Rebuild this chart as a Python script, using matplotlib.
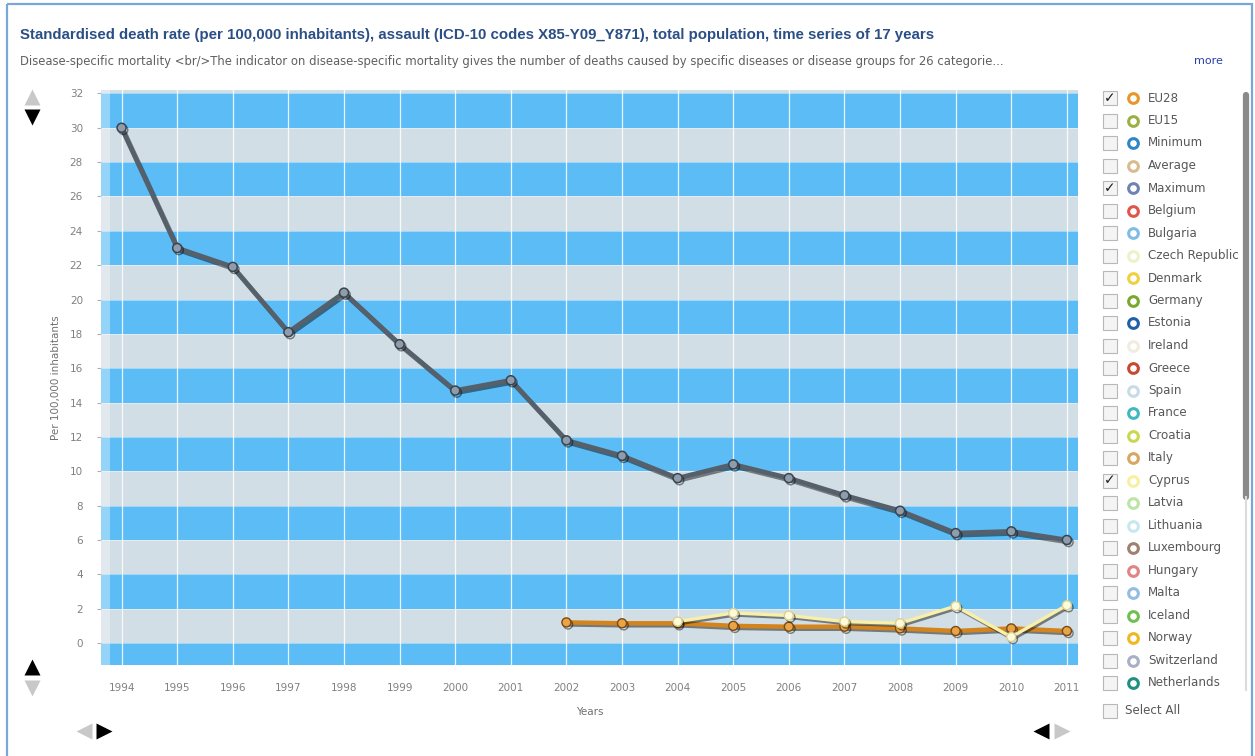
import matplotlib
matplotlib.use('Agg')
import matplotlib.pyplot as plt
import matplotlib.patheffects as pe
from matplotlib.patches import Rectangle

# ---- data ----
years = list(range(1994, 2012))
maximum = [30.0, 23.0, 21.9, 18.1, 20.4, 17.4, 14.7, 15.3, 11.8, 10.9,
           9.6, 10.4, 9.6, 8.6, 7.7, 6.4, 6.5, 6.0]
eu28_years = list(range(2002, 2012))
eu28 = [1.2, 1.15, 1.15, 1.0, 0.95, 0.95, 0.85, 0.7, 0.85, 0.7]
cyprus_years = list(range(2004, 2012))
cyprus = [1.25, 1.75, 1.6, 1.25, 1.15, 2.15, 0.35, 2.2]
y_ticks = list(range(0, 33, 2))

legend_names = ['EU28', 'EU15', 'Minimum', 'Average', 'Maximum', 'Belgium',
                'Bulgaria', 'Czech Republic', 'Denmark', 'Germany', 'Estonia',
                'Ireland', 'Greece', 'Spain', 'France', 'Croatia', 'Italy',
                'Cyprus', 'Latvia', 'Lithuania', 'Luxembourg', 'Hungary',
                'Malta', 'Iceland', 'Norway', 'Switzerland', 'Netherlands']
legend_colors = ['#e8962a', '#9ab040', '#2e86c8', '#d8bc90', '#6f84b0', '#e0574a',
                 '#80bce8', '#eef2c8', '#f0d040', '#78a830', '#2060a8',
                 '#f0ece0', '#c84830', '#c8dce8', '#40b8c0', '#c8d850', '#d8a860',
                 '#f8f0a0', '#bce4a4', '#c8e8f0', '#a08070', '#e08484',
                 '#94bce4', '#70c050', '#f0b820', '#a8b0c4', '#209080']
legend_checked = ['EU28', 'Maximum', 'Cyprus']

title = ('Standardised death rate (per 100,000 inhabitants), assault '
         '(ICD-10 codes X85-Y09_Y871), total population, time series of 17 years')
subtitle = ('Disease-specific mortality <br/>The indicator on disease-specific mortality '
            'gives the number of deaths caused by specific diseases or disease groups '
            'for 26 categorie...')

W, H = 1255, 756
BLUE = '#5cbdf6'
GREY = '#d2dee6'

plt.rcParams['font.family'] = ['DejaVu Sans']
fig = plt.figure(figsize=(W / 100, H / 100), dpi=100)

# ---- main plot ----
left, right, top, bottom = 101, 1078, 90, 665
ax = fig.add_axes([left / W, 1 - bottom / H, (right - left) / W, (bottom - top) / H])
ax.set_facecolor(GREY)
for lo in range(-2, 32, 4):
    ax.axhspan(lo, lo + 2, color=BLUE, lw=0, zorder=0)
for t in y_ticks:
    ax.axhline(t, color='white', lw=0.6, alpha=0.5, zorder=0.5)
ax.add_patch(Rectangle((0, 0), 0.0095, 1, transform=ax.transAxes,
                       color='white', alpha=0.35, lw=0, zorder=0.6))

ax.set_xlim(1993.63, 2011.2)
ax.set_ylim(-1.28, 32.2)
ax.set_xticks(years)
ax.set_yticks(y_ticks)
ax.grid(axis='x', color='white', lw=0.9, alpha=0.85, zorder=0.7)
ax.set_axisbelow(True)
for s in ax.spines.values():
    s.set_visible(False)
ax.tick_params(axis='y', length=3, color='#b0b0b0', pad=10, labelsize=7.5, labelcolor='#808080')
ax.tick_params(axis='x', length=0, pad=13, labelsize=7.5, labelcolor='#808080')
ax.set_xlabel('Years', fontsize=7.5, color='#707070', labelpad=10)
ax.set_ylabel('Per 100,000 inhabitants', fontsize=7.5, color='#707070', labelpad=6)

shadow = [pe.SimpleLineShadow(offset=(1.2, -1.5), shadow_color='black', alpha=0.45),
          pe.Normal()]
ax.plot(years, maximum, color='#56606b', lw=3.4, marker='o', ms=6.5,
        mfc='#8e9cab', mec='#3a444e', mew=1.1, zorder=3, path_effects=shadow)
ax.plot(eu28_years, eu28, color='#d4841c', lw=3.2, marker='o', ms=6.5,
        mfc='#e9a445', mec='#7a4a12', mew=1.0, zorder=4, path_effects=shadow)
ax.plot(cyprus_years, cyprus, color='#f8f0a8', lw=2.4, marker='o', ms=6.5,
        mfc='#fffbd8', mec='#d8d098', mew=1.0, zorder=5, path_effects=shadow)

# ---- decorations, in pixel coordinates ----
ov = fig.add_axes([0, 0, 1, 1], zorder=10)
ov.set_xlim(0, W)
ov.set_ylim(H, 0)
ov.axis('off')

ov.add_patch(Rectangle((7, 4), W - 10, H + 10, fill=False, ec='#7aa6da', lw=1.6))
ov.text(20, 35, title, fontsize=10.8, fontweight='bold', color='#2b4f85',
        family='Liberation Sans', va='center')
ov.text(20, 61, subtitle, fontsize=8.4, color='#606060', va='center')
ov.text(1208, 61, 'more', fontsize=8, color='#2a3fa8', va='center', ha='center')

# navigation arrows
ov.plot(32, 97, marker='^', ms=11, color='#c8c8c8', mec='none')
ov.plot(32, 117, marker='v', ms=11, color='black', mec='none')
ov.plot(32, 667, marker='^', ms=11, color='black', mec='none')
ov.plot(32, 688, marker='v', ms=11, color='#c8c8c8', mec='none')
ov.plot(84, 731, marker='<', ms=11, color='#c8c8c8', mec='none')
ov.plot(104, 731, marker='>', ms=11, color='black', mec='none')
ov.plot(1041, 731, marker='<', ms=11, color='black', mec='none')
ov.plot(1062, 731, marker='>', ms=11, color='#c8c8c8', mec='none')

# legend panel
row0, step = 98, 22.5
for i, (name, col) in enumerate(zip(legend_names, legend_colors)):
    y = row0 + i * step
    ov.add_patch(Rectangle((1103, y - 7), 14, 14, fc='#f4f4f4', ec='#b8b8b8', lw=0.8))
    if name in legend_checked:
        ov.text(1110, y, '\u2713', fontsize=10, color='#202020', ha='center', va='center')
    ov.plot(1133, y, marker='o', ms=7, mfc='white', mec=col, mew=2.2)
    ov.text(1148, y, name, fontsize=8.6, color='#585858', va='center')
ysel = row0 + len(legend_names) * step + 5
ov.add_patch(Rectangle((1103, ysel - 7), 14, 14, fc='#f4f4f4', ec='#b8b8b8', lw=0.8))
ov.text(1125, ysel, 'Select All', fontsize=8.6, color='#585858', va='center')

# scrollbar
ov.plot([1246, 1246], [95, 497], color='#8a8a8a', lw=4.5, solid_capstyle='round')
ov.plot([1246, 1246], [497, 690], color='#dcdcdc', lw=1.5)

fig.savefig('out.png', dpi=100)
